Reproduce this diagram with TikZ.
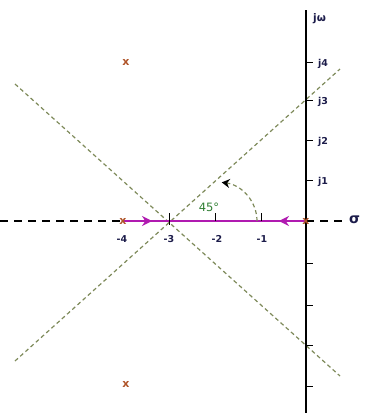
\documentclass[tikz,border=0pt]{standalone}
\usepackage{fontspec}
\setmainfont{DejaVu Sans}
\usetikzlibrary{arrows.meta}
\definecolor{navy}{HTML}{1C1C4A}
\definecolor{polec}{HTML}{B0552A}
\definecolor{asym}{HTML}{7E8A5A}
\definecolor{locus}{HTML}{B01AB0}
\definecolor{angc}{HTML}{2E7D32}
\tikzset{
  lbl/.style={font=\fontsize{9.5}{10}\selectfont\bfseries, text=navy, inner sep=0pt},
  polemark/.style={font=\fontsize{11}{12}\selectfont\bfseries, text=polec, inner sep=0pt},
  asymline/.style={asym, dash pattern=on 4pt off 3pt, line width=1.2pt},
  axisdash/.style={black, dash pattern=on 8pt off 6pt, line width=1.1pt},
  tickmark/.style={black, line width=1pt},
  locusline/.style={locus, line width=2.4pt},
  locusarrow/.style={locus, line width=2.4pt, -{Stealth[length=10pt,width=10pt]}}
}
\begin{document}
\begin{tikzpicture}[x=1pt,y=-1pt]
\useasboundingbox (0,0) rectangle (375,413);
% key coordinates
\coordinate (O) at (306,221);
\coordinate (axtop) at (306,10);
\coordinate (axbot) at (306,413);
\coordinate (axleft) at (0,221);
\coordinate (axright) at (346,221);
\coordinate (m4) at (123,221);
\coordinate (m3) at (169,221);
\coordinate (m2) at (215,221);
\coordinate (m1) at (261,221);
% asymptotes
\coordinate (a1s) at (15,84);
\coordinate (a1e) at (340,376);
\coordinate (a2s) at (15,361);
\coordinate (a2e) at (340,69);
\draw[asymline] (a1s) -- (a1e);
\draw[asymline] (a2s) -- (a2e);
% real axis dashed parts
\draw[axisdash] (axleft) -- (m4);
\draw[axisdash] (O) -- (axright);
% imaginary axis
\draw[black, line width=1.8pt] (axtop) -- (axbot);
% imaginary ticks
\foreach \y/\n in {62/t4,100/t3,140/t2,180/t1,263/b1,305/b2,345/b3,386/b4}{
  \coordinate (\n a) at (306,\y);
  \coordinate (\n b) at (313,\y);
  \draw[tickmark] (\n a) -- (\n b);
}
% locus
\draw[locusline] (m4) -- (O);
\coordinate (arrL) at (152,221);
\coordinate (arrR) at (279,221);
\draw[locusarrow] (m4) -- (arrL);
\draw[locusarrow] (O) -- (arrR);
% real ticks
\foreach \n in {m3,m2,m1}{
  \draw[tickmark] (\n) -- ++(0,-8);
}
\draw[tickmark] (m3) -- ++(0,4);
% angle arc
\coordinate (arcs) at (257,221);
\draw[asym, dash pattern=on 4pt off 3pt, line width=1.2pt, -{Stealth[length=8pt,width=9pt,black]}]
  (arcs) arc[start angle=0, end angle=-82, x radius=41, y radius=39];
\node[font=\fontsize{11.5}{12}\selectfont, text=angc, inner sep=0pt] (ang) at (209,207) {45°};
% poles
\node[polemark] (p1) at (126,62) {x};
\node[polemark] (p2) at (126,384) {x};
\node[polemark] (p3) at (123,221) {x};
\node[polemark] (p4) at (306,221) {x};
% labels
\node[lbl] (l4) at (122,239) {-4};
\node[lbl] (l3) at (169,239) {-3};
\node[lbl] (l2) at (217,239) {-2};
\node[lbl] (l1) at (262,239) {-1};
\node[lbl, anchor=west] (j4) at (318,64) {j4};
\node[lbl, anchor=west] (j3) at (318,102) {j3};
\node[lbl, anchor=west] (j2) at (318,142) {j2};
\node[lbl, anchor=west] (j1) at (318,182) {j1};
\node[lbl, anchor=west, font=\fontsize{10.5}{11}\selectfont\bfseries] (jw) at (313,19) {jω};
\node[lbl, anchor=west, font=\fontsize{14}{14}\selectfont\bfseries] (sig) at (349,220) {σ};
\end{tikzpicture}
\end{document}
